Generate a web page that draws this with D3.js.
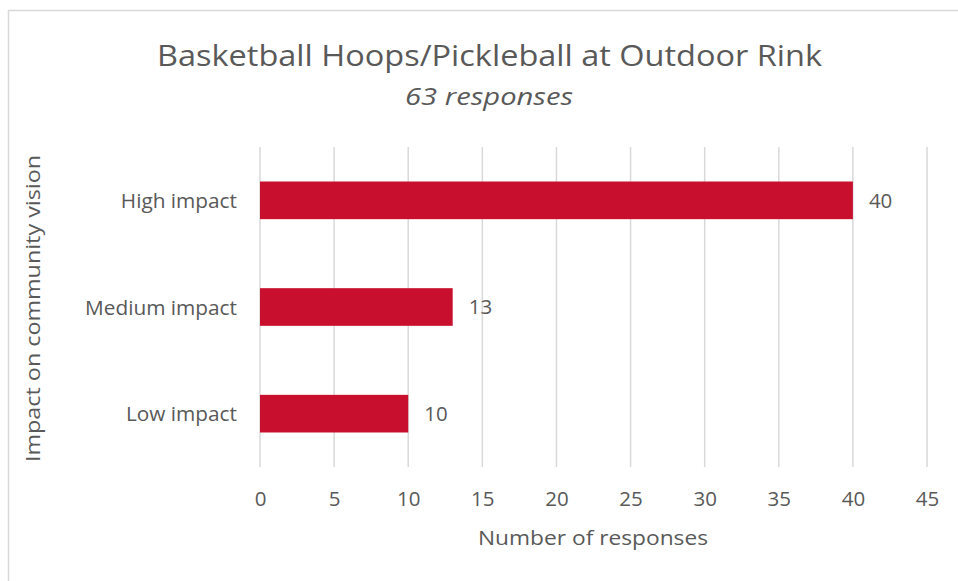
<!DOCTYPE html>
<html>
<head>
<meta charset="utf-8">
<script src="https://cdn.jsdelivr.net/npm/d3@7"></script>
<style>
  html, body { margin: 0; padding: 0; background: #ffffff; }
  svg { display: block; }
  text { font-family: "Open Sans", "Noto Sans", sans-serif; fill: #595959; }
</style>
</head>
<body>
<svg id="chart" width="958" height="581"></svg>
<script>
// Survey responses per impact level
const categories = ["High impact", "Medium impact", "Low impact"];
const responses = [40, 13, 10];
const xTicks = [0, 5, 10, 15, 20, 25, 30, 35, 40, 45];

const chartTitle = "Basketball Hoops/Pickleball at Outdoor Rink";
const chartSubtitle = "63 responses";
const xTitle = "Number of responses";
const yTitle = "Impact on community vision";

const svg = d3.select("#chart");
const W = 958, H = 581;
const plot = { left: 260, right: 927, top: 147, bottom: 467 };

// Chart frame (only top and left edges fall inside the view)
svg.append("path")
  .attr("d", `M8.5,${H} V10.5 H${W}`)
  .attr("fill", "none")
  .attr("stroke", "#d9d9d9")
  .attr("stroke-width", 1.5);

const x = d3.scaleLinear().domain([0, 45]).range([plot.left, plot.right]);
const y = d3.scaleBand()
  .domain(categories)
  .range([plot.top, plot.bottom])
  .paddingInner(0.647)
  .paddingOuter(0.3235);

// Vertical gridlines
svg.append("g")
  .selectAll("line")
  .data(xTicks)
  .join("line")
  .attr("x1", d => x(d)).attr("x2", d => x(d))
  .attr("y1", plot.top).attr("y2", plot.bottom)
  .attr("stroke", "#d9d9d9")
  .attr("stroke-width", 1.5);

// Bars
const data = categories.map((c, i) => ({ cat: c, val: responses[i] }));
svg.append("g")
  .selectAll("rect")
  .data(data)
  .join("rect")
  .attr("x", x(0))
  .attr("y", d => y(d.cat))
  .attr("width", d => x(d.val) - x(0))
  .attr("height", y.bandwidth())
  .attr("fill", "#c8102e");

// Value labels
svg.append("g")
  .selectAll("text")
  .data(data)
  .join("text")
  .attr("x", d => x(d.val) + 16)
  .attr("y", d => y(d.cat) + y.bandwidth() / 2)
  .attr("dy", "0.36em")
  .attr("font-size", 20.5)
  .text(d => d.val);

// X axis tick labels
const xAxis = d3.axisBottom(x).tickValues(xTicks).tickSize(0).tickPadding(0);
const gx = svg.append("g")
  .attr("transform", `translate(0,${plot.bottom})`)
  .call(xAxis);
gx.select(".domain").remove();
gx.selectAll("text")
  .attr("y", 39)
  .attr("dy", 0)
  .attr("font-size", 20.5)
  .attr("font-family", "'Open Sans', sans-serif")
  .attr("fill", "#595959");

// Y axis category labels
const yAxis = d3.axisLeft(y).tickSize(0).tickPadding(0);
const gy = svg.append("g")
  .attr("transform", `translate(237,0)`)
  .call(yAxis);
gy.select(".domain").remove();
gy.selectAll("text")
  .attr("x", 0)
  .attr("dy", "0.36em")
  .attr("font-size", 20.8)
  .attr("font-family", "'Open Sans', sans-serif")
  .attr("fill", "#595959");

// Titles
svg.append("text")
  .attr("x", 489.5).attr("y", 66)
  .attr("text-anchor", "middle")
  .attr("font-size", 30)
  .attr("textLength", 665)
  .attr("lengthAdjust", "spacingAndGlyphs")
  .text(chartTitle);

svg.append("text")
  .attr("x", 489).attr("y", 105)
  .attr("text-anchor", "middle")
  .attr("font-size", 24)
  .attr("font-style", "italic")
  .attr("textLength", 168)
  .attr("lengthAdjust", "spacingAndGlyphs")
  .text(chartSubtitle);

svg.append("text")
  .attr("x", 593).attr("y", 545)
  .attr("text-anchor", "middle")
  .attr("font-size", 20.5)
  .attr("textLength", 230)
  .attr("lengthAdjust", "spacingAndGlyphs")
  .text(xTitle);

svg.append("text")
  .attr("transform", "translate(40,308.5) rotate(-90)")
  .attr("text-anchor", "middle")
  .attr("font-size", 20.5)
  .attr("textLength", 307)
  .attr("lengthAdjust", "spacingAndGlyphs")
  .text(yTitle);
</script>
</body>
</html>
